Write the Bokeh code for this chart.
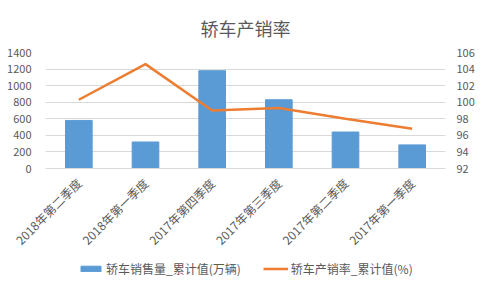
from math import pi
from bokeh.plotting import figure
from bokeh.layouts import column
from bokeh.models import Range1d, LinearAxis, FixedTicker, Legend, LegendItem, ColumnDataSource
from bokeh.embed import file_html
from bokeh.resources import INLINE

categories = ["2018年第二季度", "2018年第一季度", "2017年第四季度", "2017年第三季度", "2017年第二季度", "2017年第一季度"]
sales = [580, 320, 1180, 830, 440, 285]
rate = [100.3, 104.6, 99.0, 99.3, 98.0, 96.8]
left_ticks = [0, 200, 400, 600, 800, 1000, 1200, 1400]
right_ticks = [92, 94, 96, 98, 100, 102, 104, 106]
sales_label = "轿车销售量_累计值(万辆)"
rate_label = "轿车产销率_累计值(%)"

FONT = "Noto Sans CJK SC"
GREY = "#595959"
BLUE = "#5b9bd5"
ORANGE = "#ed7d31"

src = ColumnDataSource(dict(cat=categories, sales=sales, rate=rate))

p = figure(width=483, height=256, x_range=categories, y_range=Range1d(0, 1400),
           output_backend="svg", toolbar_location=None,
           min_border_left=45, min_border_right=38, min_border_top=0, min_border_bottom=85)
p.extra_y_ranges = {"r": Range1d(92, 106)}

p.title.text = "轿车产销率"
p.title.align = "center"
p.title.text_font = FONT
p.title.text_font_size = "18px"
p.title.text_font_style = "normal"
p.title.text_color = GREY
p.title.standoff = 24
p.outline_line_color = None

bars = p.vbar(x="cat", top="sales", width=0.4, color=BLUE, source=src)
line = p.line(x="cat", y="rate", y_range_name="r", line_color=ORANGE, line_width=2.5, source=src)

p.yaxis.ticker = FixedTicker(ticks=left_ticks)
ra = LinearAxis(y_range_name="r", ticker=FixedTicker(ticks=right_ticks))
p.add_layout(ra, "right")

for ax in [p.yaxis[0], ra]:
    ax.axis_line_color = None
    ax.major_tick_line_color = None
    ax.minor_tick_line_color = None
    ax.major_label_text_font = FONT
    ax.major_label_text_font_size = "11px"
    ax.major_label_text_color = GREY
p.yaxis[0].major_label_standoff = 8
ra.major_label_standoff = 5

xa = p.xaxis[0]
xa.axis_line_color = "#d9d9d9"
xa.major_tick_line_color = None
xa.major_label_orientation = pi / 4
xa.major_label_text_font = FONT
xa.major_label_text_font_size = "12px"
xa.major_label_text_color = GREY
xa.major_label_standoff = 6

p.xgrid.grid_line_color = None
p.ygrid.grid_line_color = "#d9d9d9"

# legend in its own small figure below the chart; the same data are drawn there
# but fall outside its visible range, so only the legend shows
lf = figure(width=483, height=35, output_backend="svg", toolbar_location=None,
            x_axis_type=None, y_axis_type=None, min_border=0,
            x_range=categories, y_range=Range1d(5000, 6000))
lf.outline_line_color = None
lf.xgrid.grid_line_color = None
lf.ygrid.grid_line_color = None
lbar = lf.vbar(x="cat", top="sales", width=0.4, color=BLUE, source=src)
lline = lf.line(x="cat", y="rate", line_color=ORANGE, line_width=2.5, source=src)

legend = Legend(items=[LegendItem(label=sales_label, renderers=[lbar]),
                       LegendItem(label=rate_label, renderers=[lline])],
                orientation="horizontal", location=(33, 14),
                label_text_font=FONT, label_text_font_size="12px", label_text_color=GREY,
                glyph_width=25, glyph_height=7, label_height=14, padding=0, spacing=22, margin=0,
                label_standoff=3, border_line_color=None, background_fill_alpha=0)
lf.add_layout(legend, "center")

layout = column(p, lf, spacing=0)
open("out.html", "w").write(file_html(layout, INLINE))
